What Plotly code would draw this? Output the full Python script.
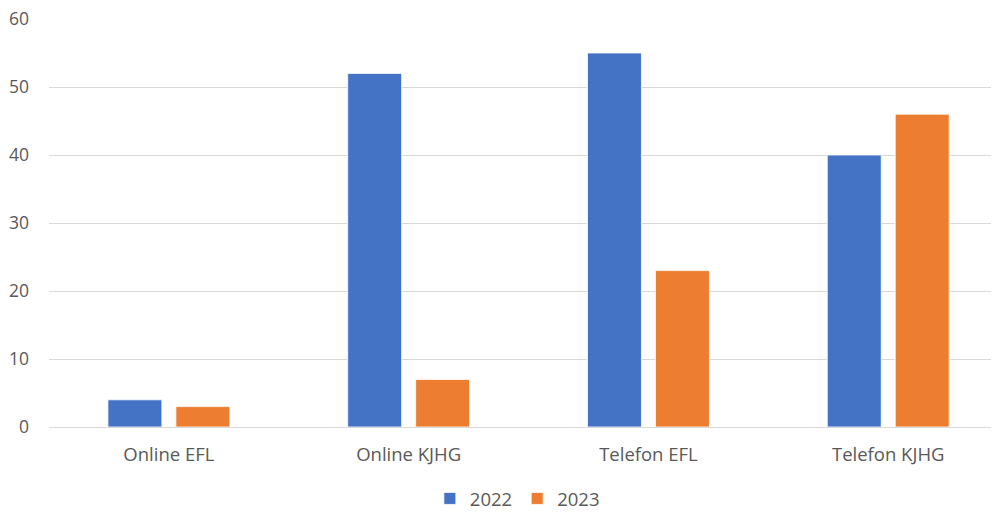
import plotly.graph_objects as go

categories = ["Online EFL", "Online KJHG", "Telefon EFL", "Telefon KJHG"]
values_2022 = [4, 52, 55, 40]
values_2023 = [3, 7, 23, 46]
series_names = ["2022", "2023"]
colors = ["#4472C4", "#ED7D31"]

fig = go.Figure()
for name, vals, col in zip(series_names, [values_2022, values_2023], colors):
    fig.add_trace(go.Bar(
        x=categories, y=vals, name=name,
        marker=dict(color=col, line=dict(color="white", width=0.8)),
    ))

font_fam = "Open Sans, Noto Sans, sans-serif"
fig.update_layout(
    width=991, height=504,
    margin=dict(l=41, r=0, t=11, b=85, autoexpand=False),
    plot_bgcolor="white", paper_bgcolor="white",
    barmode="group", bargap=0.433, bargroupgap=0.206,
    font=dict(family=font_fam, size=18.5, color="#595959"),
    showlegend=True,
    legend=dict(orientation="h", x=0.514, xanchor="center", xref="container",
                y=0.026, yanchor="middle", yref="container",
                font=dict(size=18.5, color="#595959"),
                traceorder="normal"),
    xaxis=dict(range=[-0.5, 3.462], showgrid=False, showline=False, automargin=False,
               ticks="", ticklabelstandoff=14, zeroline=False, tickangle=0,
               ticklabeloverflow="allow"),
    yaxis=dict(range=[0, 60], dtick=10, showgrid=True, gridcolor="#D9D9D9", automargin=False,
               gridwidth=1, zeroline=True, zerolinecolor="#D9D9D9", zerolinewidth=1,
               showline=False, ticks="", ticklabelstandoff=19,
               tickfont=dict(size=17.5), ticklabeloverflow="allow"),
)
fig.write_html("out.html")
